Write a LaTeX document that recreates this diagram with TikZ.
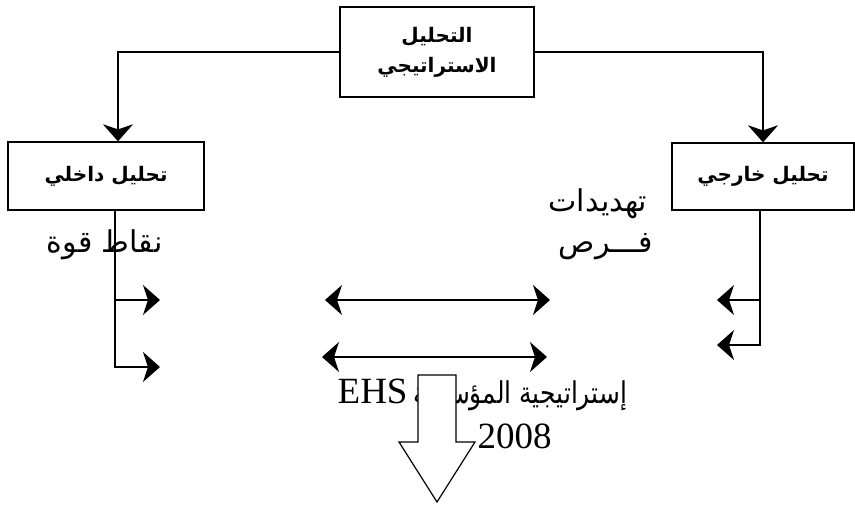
\documentclass[tikz,border=0pt]{standalone}
\usepackage{fontspec}
\setmainfont{Liberation Serif}
\newfontfamily\arabicfont[Script=Arabic]{DejaVu Sans}
\TeXXeTstate=1
\usetikzlibrary{arrows.meta}

\begin{document}
\begin{tikzpicture}[x=1pt,y=-1pt,line width=1.3pt,
  box/.style={draw,fill=white,inner sep=0pt,align=center,
    font=\arabicfont\bfseries\fontsize{20}{30}\selectfont},
  tip/.style={-{Stealth[length=17pt,width=30pt,inset=5pt]}},
  both/.style={{Stealth[length=17pt,width=30pt,inset=5pt]}-{Stealth[length=17pt,width=30pt,inset=5pt]}},
  artext/.style={inner sep=0pt,font=\arabicfont\fontsize{30}{36}\selectfont},
  latext/.style={inner sep=0pt,font=\fontsize{37}{42}\selectfont}]
\useasboundingbox (0,0) rectangle (855,508);

\node[box,minimum width=194pt,minimum height=90pt] (top) at (437,52)
  {\beginR التحليل\endR\\ \beginR الاستراتيجي\endR};
\node[box,minimum width=196pt,minimum height=68pt] (inner) at (106,176)
  {\beginR تحليل داخلي\endR};
\node[box,minimum width=182pt,minimum height=67pt] (outer) at (763,176.5)
  {\beginR تحليل خارجي\endR};

\draw[tip] (top.west) -| ([xshift=12pt]inner.north);
\draw[tip] (top.east) -| (outer.north);

\node[artext,anchor=base east] (threats) at (648,212) {\beginR تهديدات\endR};
\node[artext,anchor=base east] (chances) at (653,252) {\beginR فـــرص\endR};
\node[artext,anchor=base east] (strength) at (163,252) {\beginR نقاط قوة\endR};

% left and right branches
\coordinate (s1) at (160,300);
\coordinate (s2) at (160,367);
\coordinate (o1) at (717,300);
\coordinate (o2) at (717,345);
\draw[tip] ([xshift=9pt]inner.south) |- (s2);
\draw[tip] ([xshift=9pt]inner.south |- s1) -- (s1);
\draw[tip] ([xshift=-3pt]outer.south) |- (o2);
\draw[tip] ([xshift=-3pt]outer.south |- o1) -- (o1);

\coordinate (d1) at (325,300);
\coordinate (e1) at (550,300);
\coordinate (d2) at (322,357);
\coordinate (e2) at (547,357);
\draw[both] (d1) -- (e1);
\draw[both] (d2) -- (e2);

\node[artext,anchor=base west] (strategy) at (337,403)
  {{\rmfamily\fontsize{37}{42}\selectfont EHS}\hspace{6pt}\scalebox{0.83}[1]{\beginR إستراتيجية المؤسسة\endR}};
\draw[line width=1.2pt,fill=white] (418,375) -- (456,375) -- (456,442) -- (475,442)
  -- (437,502) -- (399,442) -- (418,442) -- cycle;
\node[latext,anchor=base west] (year) at (477,448) {2008};
\end{tikzpicture}
\end{document}
